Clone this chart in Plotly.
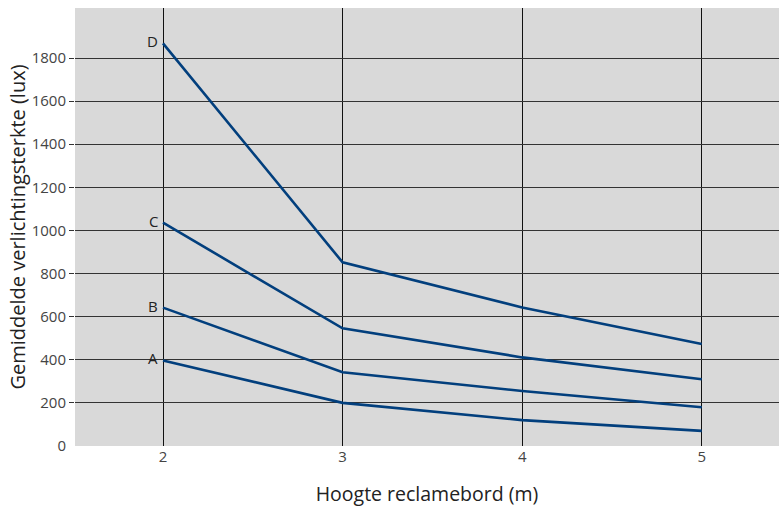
import plotly.graph_objects as go

heights = [2, 3, 4, 5]
series_names = ["A", "B", "C", "D"]
series_A = [397, 200, 120, 70]
series_B = [642, 342, 255, 180]
series_C = [1036, 546, 411, 310]
series_D = [1868, 852, 643, 473]
y_ticks = [200, 400, 600, 800, 1000, 1200, 1400, 1600, 1800]
x_ticks = [2, 3, 4, 5]

x_title = "Hoogte reclamebord (m)"
y_title = "Gemiddelde verlichtingsterkte (lux)"

FONT = "Open Sans"
LINE_COLOR = "#023f7d"

fig = go.Figure()
all_series = [series_A, series_B, series_C, series_D]
for name, vals in zip(series_names, all_series):
    fig.add_trace(go.Scatter(
        x=heights, y=vals, mode="lines", name=name,
        line=dict(color=LINE_COLOR, width=2.6), showlegend=False,
        hoverinfo="x+y+name",
    ))
    fig.add_annotation(
        x=heights[0], y=vals[0], text=name, showarrow=False,
        xanchor="right", yanchor="middle", xshift=-3, yshift=2,
        font=dict(family=FONT, size=15, color="#222222"),
    )

fig.add_trace(go.Scatter(x=[None], y=[None], yaxis="y2", showlegend=False, hoverinfo="skip"))

y_range = [0, 2032]
fig.update_layout(
    width=779, height=509,
    margin=dict(l=75, r=0, t=8, b=63),
    paper_bgcolor="white",
    plot_bgcolor="#d9d9d9",
    font=dict(family=FONT, color="#444444"),
    xaxis=dict(
        range=[1.51, 5.43], tickvals=x_ticks, ticktext=[str(v) for v in x_ticks],
        showgrid=True, gridcolor="#111111", gridwidth=1, zeroline=False,
        showline=False, ticks="", automargin=False,
        tickfont=dict(family=FONT, size=15, color="#444444"),
        title=dict(text=x_title, font=dict(family=FONT, size=19.5, color="#222222"), standoff=22),
    ),
    yaxis=dict(
        range=y_range, tickvals=y_ticks, ticktext=[str(v) for v in y_ticks],
        showgrid=True, gridcolor="#333333", gridwidth=1, zeroline=False,
        showline=False, ticks="outside", ticklen=5, tickcolor="#333333",
        automargin=False,
        tickfont=dict(family=FONT, size=15, color="#444444"),
        title=dict(text=y_title, font=dict(family=FONT, size=20, color="#222222"), standoff=0),
    ),
    yaxis2=dict(
        overlaying="y", side="left", range=y_range, tickvals=[0], ticktext=["0"],
        showgrid=False, zeroline=False, showline=False, ticks="outside", ticklen=5,
        tickcolor="rgba(0,0,0,0)", automargin=False,
        tickfont=dict(family=FONT, size=15, color="#444444"),
    ),
)

fig.write_html(
    "out.html",
    config={"displayModeBar": False},
    post_script="document.body.style.margin='0';document.body.style.overflow='hidden';",
)
